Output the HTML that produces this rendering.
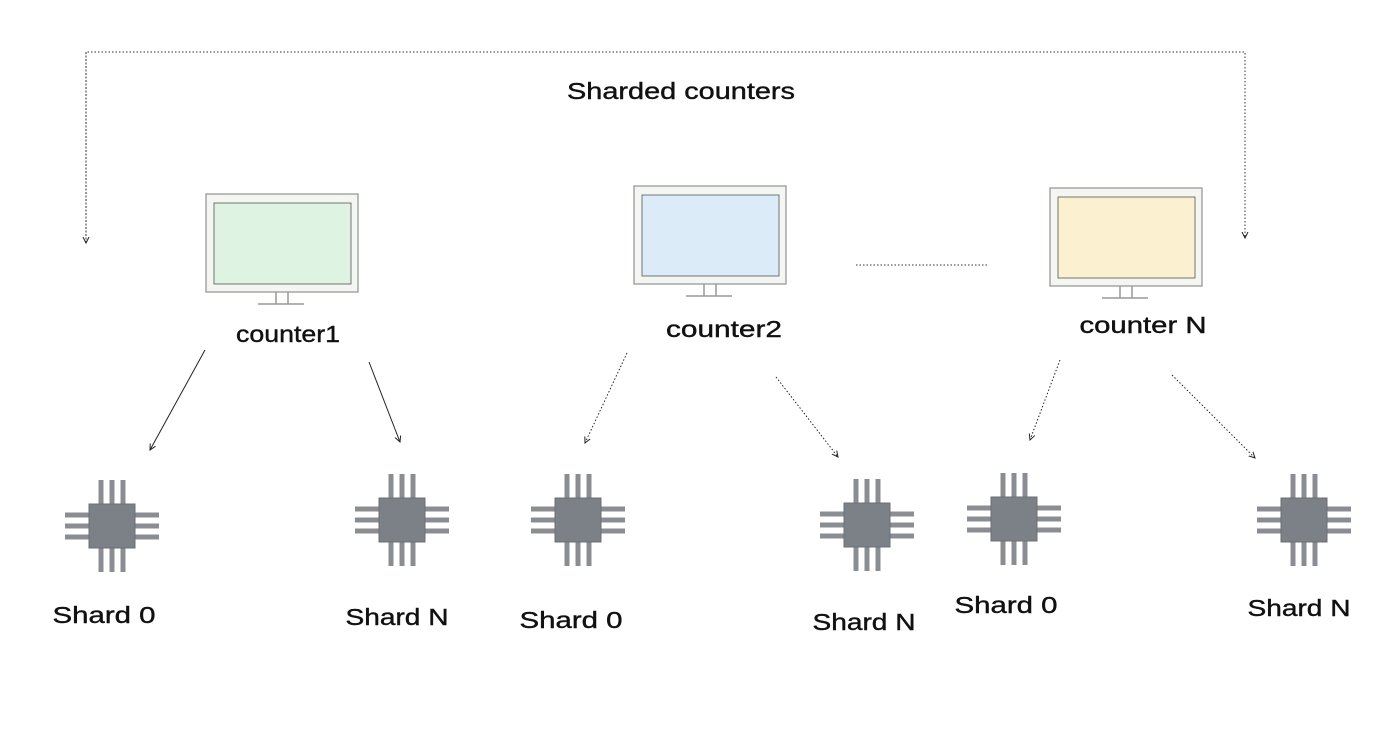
<!DOCTYPE html>
<html><head><meta charset="utf-8"><style>
html,body{margin:0;padding:0;background:#fff;}
svg{display:block;}
text{font-family:"Liberation Sans",sans-serif;font-size:23px;fill:#111;stroke:#111;stroke-width:0.4;}
</style></head><body>
<svg id="d" width="1400" height="741" viewBox="0 0 1400 741">
<defs>
<marker id="ah" markerWidth="8" markerHeight="8" refX="6" refY="4" orient="auto"><path d="M0,1 L6,4 L0,7" fill="none" stroke="#222" stroke-width="1"/></marker>
</defs>
<text x="681" y="99" text-anchor="middle" textLength="228" lengthAdjust="spacingAndGlyphs">Sharded counters</text>
<path d="M86,243 L86,52 L1245,52 L1245,238" fill="none" stroke="#333" stroke-width="1" stroke-dasharray="1.5,2" marker-end="url(#ah)"/>
<path d="M86,52 L86,243" fill="none" stroke="#333" stroke-width="1" stroke-dasharray="1.5,2" marker-end="url(#ah)"/>
<line x1="856" y1="265" x2="988" y2="265" stroke="#333" stroke-width="1" stroke-dasharray="1.5,2"/>
<g id="g"></g>
</svg>
<script>
const NS="http://www.w3.org/2000/svg";
const g=document.getElementById('g');
function mk(tag,attrs,parent){const e=document.createElementNS(NS,tag);for(const k in attrs)e.setAttribute(k,attrs[k]);(parent||g).appendChild(e);return e;}
const monitorNames=["counter1","counter2","counter N"];
const monitorX=[206,634,1050];
const monitorY=[194,186,188];
const monitorFill=["#dff3e2","#dcebf8","#fbf0cf"];
const labelPos=[[288,342],[724,337],[1143,333]];
const labelW=[104,116,127];
for(let i=0;i<3;i++){
  const x=monitorX[i],y=monitorY[i];
  const m=mk('g',{});
  
  
  mk('rect',{x:x,y:y,width:152,height:98,fill:'#f4f6f2',stroke:'#999','stroke-width':1.3},m);
  mk('rect',{x:x+8,y:y+9,width:137,height:81,fill:monitorFill[i],stroke:'#555','stroke-width':0.8},m);
  mk('path',{d:`M${x+70},${y+98} V${y+110} M${x+82},${y+98} V${y+110} M${x+52},${y+110} H${x+98}`,stroke:'#999','stroke-width':1.5,fill:'none'},m);
  const t=mk('text',{x:labelPos[i][0],y:labelPos[i][1],'text-anchor':'middle',textLength:labelW[i],lengthAdjust:'spacingAndGlyphs'});
  t.textContent=monitorNames[i];
  
  
}
const arrows=[[205,350,150,450,0],[369,362,400,442,0],[627,353,585,443,1],[776,377,838,457,1],[1060,360,1030,440,1],[1172,375,1255,458,1]];
arrows.forEach((a,i)=>{
  const l=mk('line',{x1:a[0],y1:a[1],x2:a[2],y2:a[3],stroke:'#222','stroke-width':1,'marker-end':'url(#ah)'});
  if(a[4])l.setAttribute('stroke-dasharray','1.5,2');
  
  
});
const chipC=[[112,526],[402,520],[578,520],[867,525],[1014,519],[1304,520]];
const shardLabels=["Shard 0","Shard N","Shard 0","Shard N","Shard 0","Shard N"];
const shardLabelPos=[[104,623],[397,625],[571,628],[864,630],[1006,613],[1299,616]];
chipC.forEach((c,i)=>{
  const ch=mk('g',{transform:`translate(${c[0]},${c[1]})`});
  
  
  const pin='#8a8e93';
  [-11,0,11].forEach(o=>{
    mk('rect',{x:o-2.5,y:-46,width:5,height:26,fill:pin},ch);
    mk('rect',{x:o-2.5,y:20,width:5,height:26,fill:pin},ch);
    mk('rect',{x:-47,y:o-2.5,width:27,height:5,fill:pin},ch);
    mk('rect',{x:20,y:o-2.5,width:27,height:5,fill:pin},ch);
  });
  mk('rect',{x:-23,y:-22,width:46,height:44,fill:'#7b8187',stroke:'#6b7076','stroke-width':1},ch);
  const t=mk('text',{x:shardLabelPos[i][0],y:shardLabelPos[i][1],'text-anchor':'middle',textLength:103,lengthAdjust:'spacingAndGlyphs'});
  t.textContent=shardLabels[i];
  
  
});
</script>
</body></html>
